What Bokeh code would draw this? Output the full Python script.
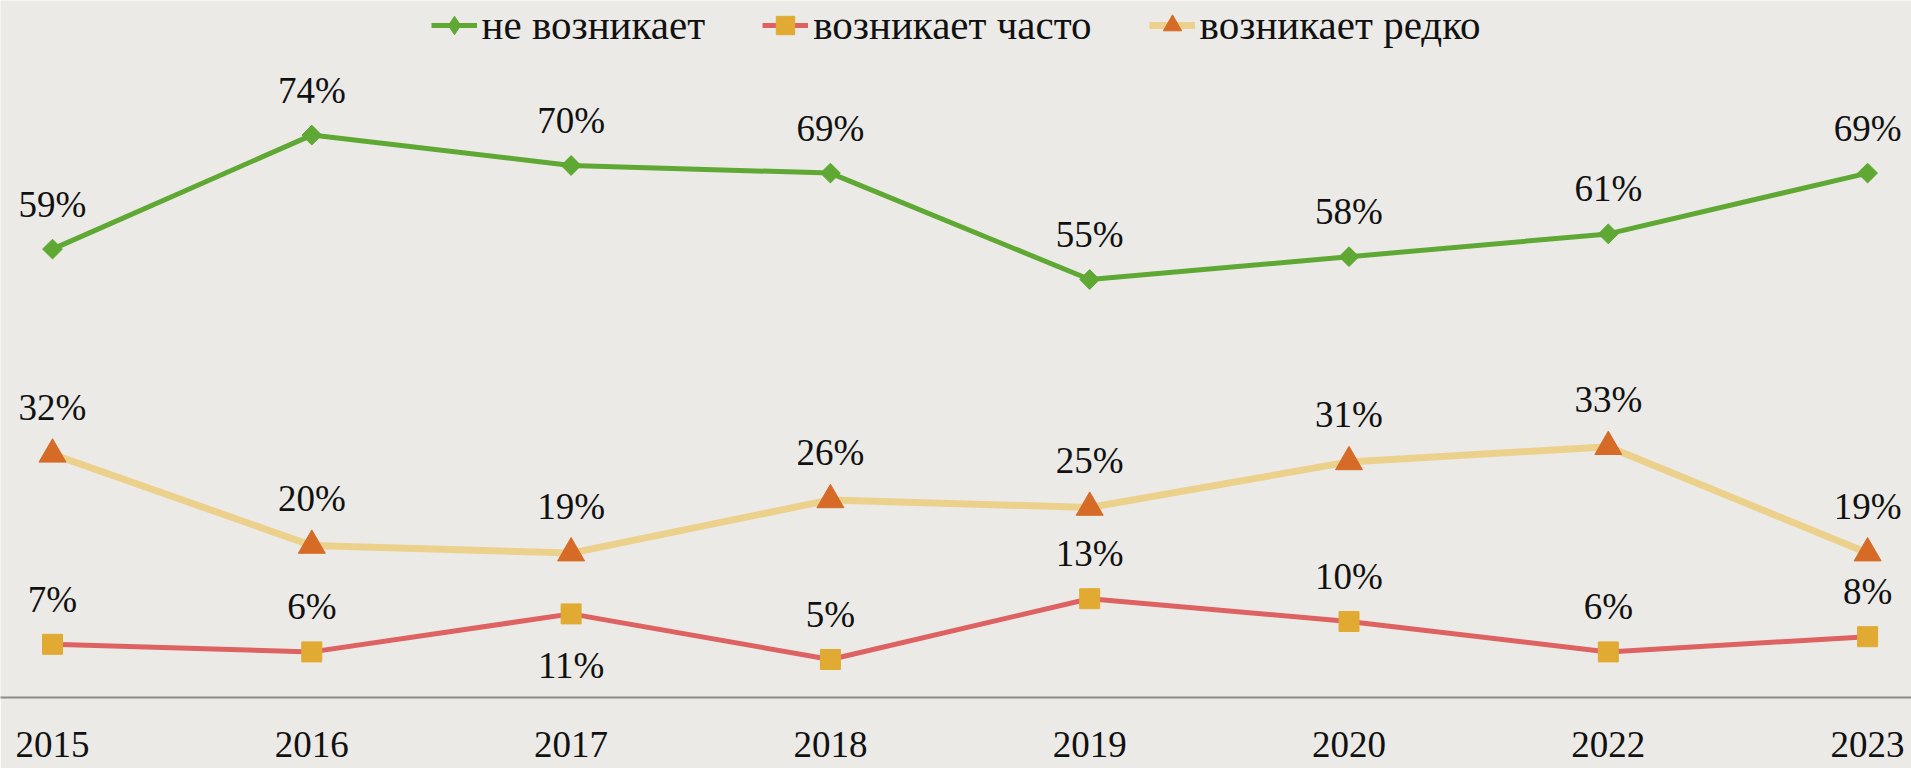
import math
from bokeh.plotting import figure
from bokeh.models import ColumnDataSource, Range1d, FixedTicker, Legend, LegendItem
from bokeh.core.properties import value
from bokeh.embed import file_html
from bokeh.resources import INLINE

# ---- data ----
years = ["2015", "2016", "2017", "2018", "2019", "2020", "2022", "2023"]
never = [59, 74, 70, 69, 55, 58, 61, 69]      # не возникает
often = [7, 6, 11, 5, 13, 10, 6, 8]           # возникает часто
rarely = [32, 20, 19, 26, 25, 31, 33, 19]     # возникает редко
series_names = ["не возникает", "возникает часто", "возникает редко"]

FONT = value("Liberation Serif")
BG = "#ebeae6"

W, H = 1911, 768
BOTTOM = 71
x = list(range(len(years)))
px_per_unit = 259.3
x_start = -52 / px_per_unit
x_end = x_start + W / px_per_unit
y_end = (H - BOTTOM) / 7.6

p = figure(width=W, height=H,
           x_range=Range1d(x_start, x_end), y_range=Range1d(0, y_end),
           output_backend="svg", toolbar_location=None, y_axis_location=None,
           min_border=0, min_border_bottom=BOTTOM, min_border_top=0,
           min_border_left=0, min_border_right=0)
p.background_fill_color = BG
p.border_fill_color = BG
p.outline_line_color = None
p.xgrid.visible = False
p.ygrid.visible = False

ax = p.xaxis[0]
ax.ticker = FixedTicker(ticks=x)
ax.major_label_overrides = {i: y for i, y in enumerate(years)}
ax.major_tick_line_color = None
ax.minor_tick_line_color = None
ax.axis_line_color = "#8c8c8c"
ax.axis_line_width = 2
ax.major_label_standoff = 28
ax.major_label_text_font = "Liberation Serif"
ax.major_label_text_font_size = "37px"
ax.major_label_text_color = "#111111"

GREEN = "#5ea833"
RED = "#de6262"
GOLD = "#e0aa33"
YELLOW = "#ecd18c"
ORANGE = "#d66b27"


def pct(vals):
    return [f"{v}%" for v in vals]


src_never = ColumnDataSource(dict(x=x, y=never, t=pct(never)))
src_often = ColumnDataSource(dict(x=x, y=often, t=pct(often)))
src_rare = ColumnDataSource(dict(x=x, y=rarely, t=pct(rarely)))

l1 = p.line("x", "y", source=src_never, line_color=GREEN, line_width=5)
m1 = p.scatter("x", "y", source=src_never, marker="square", angle=math.pi / 4,
               size=14, fill_color=GREEN, line_color=GREEN)
# legend-only diamond (legend does not rotate markers); a NaN point draws nothing
m1_leg = p.scatter(x=[float("nan")], y=[float("nan")], marker="diamond", size=22,
                   fill_color=GREEN, line_color=GREEN)

l3 = p.line("x", "y", source=src_rare, line_color=YELLOW, line_width=7)
m3 = p.scatter("x", "y", source=src_rare, marker="triangle", size=27,
               fill_color=ORANGE, line_color=ORANGE)

l2 = p.line("x", "y", source=src_often, line_color=RED, line_width=5)
m2 = p.scatter("x", "y", source=src_often, marker="square", size=20,
               fill_color=GOLD, line_color=GOLD)

label_kw = dict(text="t", text_align="center", text_baseline="middle",
                text_font=FONT, text_font_size="37px", text_color="#111111")

p.text("x", "y", source=src_never, y_offset=-45, **label_kw)
p.text("x", "y", source=src_rare, y_offset=-47, **label_kw)

# "often" labels: above, except 2017 which sits below its point
below_idx = {2}
above = [i for i in x if i not in below_idx]
below = [i for i in x if i in below_idx]
src_often_above = ColumnDataSource(dict(x=[x[i] for i in above], y=[often[i] for i in above],
                                        t=[f"{often[i]}%" for i in above]))
src_often_below = ColumnDataSource(dict(x=[x[i] for i in below], y=[often[i] for i in below],
                                        t=[f"{often[i]}%" for i in below]))
p.text("x", "y", source=src_often_above, y_offset=-45, **label_kw)
p.text("x", "y", source=src_often_below, y_offset=52, **label_kw)

legend = Legend(items=[
    LegendItem(label=series_names[0], renderers=[l1, m1_leg]),
    LegendItem(label=series_names[1], renderers=[l2, m2]),
    LegendItem(label=series_names[2], renderers=[l3, m3]),
], orientation="horizontal", location="top_center")
legend.background_fill_alpha = 0
legend.border_line_color = None
legend.label_text_font = "Liberation Serif"
legend.label_text_font_size = "41px"
legend.label_text_color = "#111111"
legend.glyph_width = 46
legend.glyph_height = 50
legend.label_height = 50
legend.label_standoff = 5
legend.spacing = 57
legend.padding = 0
legend.margin = 0
p.add_layout(legend)

html = file_html(p, INLINE, title="chart")
html = html.replace("<body>", f'<body style="background-color:{BG};">', 1)
open("out.html", "w").write(html)
